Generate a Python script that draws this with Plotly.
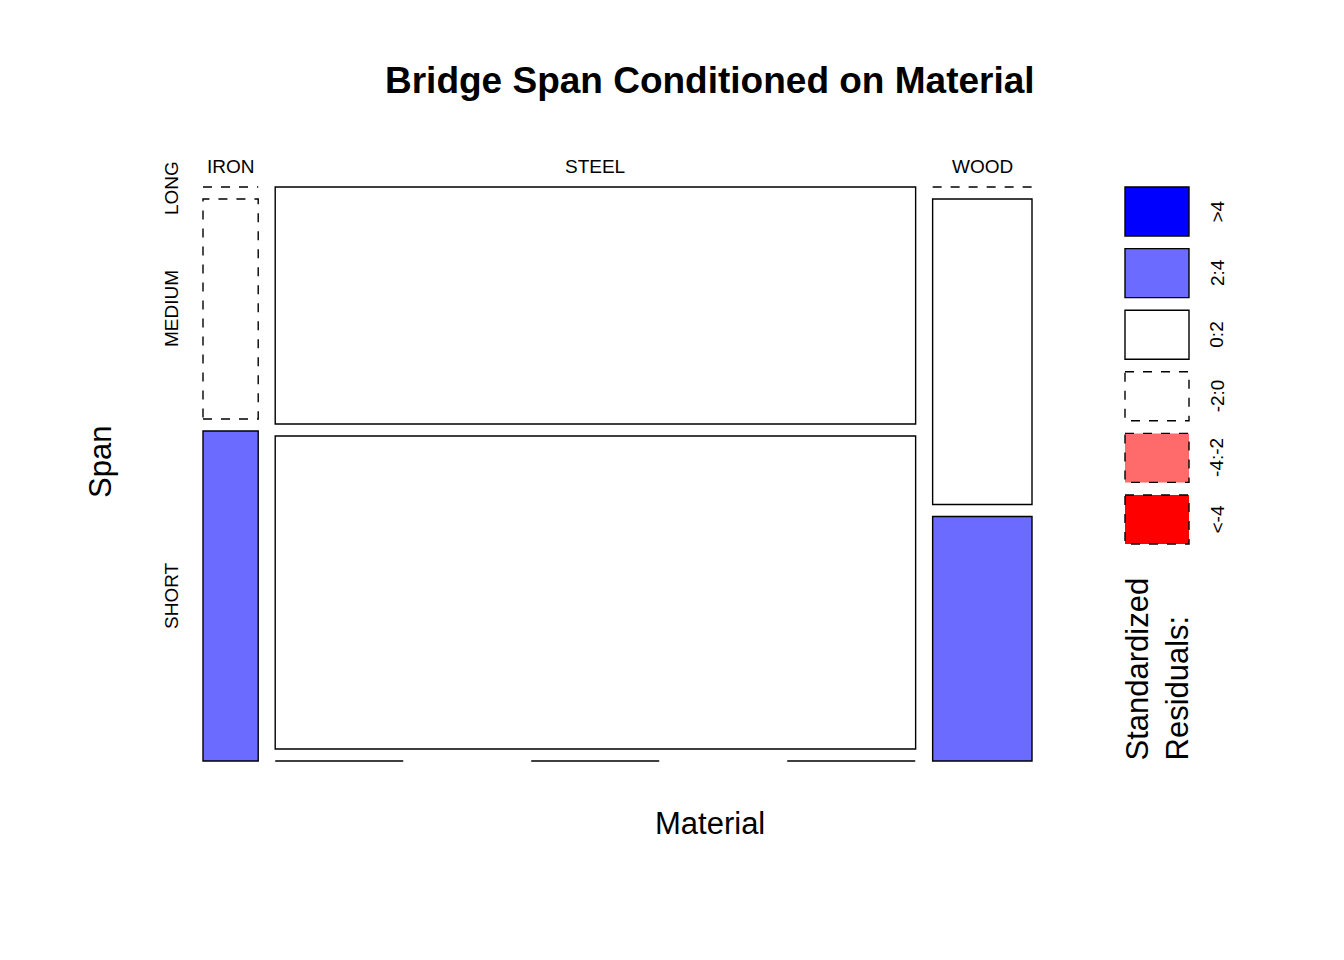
import plotly.graph_objects as go
import math

materials = ["IRON", "STEEL", "WOOD"]
spans = ["SHORT", "MEDIUM", "LONG"]
# counts[material] = [SHORT, MEDIUM, LONG]
iron_counts = [3, 2, 0]
steel_counts = [0, 33, 25]
wood_counts = [4, 5, 0]
counts = [iron_counts, steel_counts, wood_counts]
legend_labels = [">4", "2:4", "0:2", "-2:0", "-4:-2", "<-4"]
legend_fills = ["#0000FF", "#6B6BFF", "#FFFFFF", "#FFFFFF", "#FF6B6B", "#FF0000"]
legend_dash = ["solid", "solid", "solid", "dash", "dash", "dash"]

N = sum(sum(c) for c in counts)
col_tot = [sum(c) for c in counts]
row_tot = [sum(c[j] for c in counts) for j in range(3)]

def shade(r):
    if r > 4: return 0
    if r > 2: return 1
    if r >= 0: return 2
    if r > -2: return 3
    if r > -4: return 4
    return 5

fig = go.Figure()
shapes, ann = [], []
X0, W, GX = 203, 795, 17
YB, H, GY = 761, 550, 12
x = X0
for i, m in enumerate(materials):
    w = col_tot[i] / N * W
    y = YB
    for j, s in enumerate(spans):
        n = counts[i][j]
        e = col_tot[i] * row_tot[j] / N
        k = shade((n - e) / math.sqrt(e))
        if n == 0:
            dash = "128px,128px" if m == "STEEL" else "dash"
            shapes.append(dict(type="line", x0=x, x1=x + w, y0=y, y1=y,
                               line=dict(color="black", width=1.4, dash=dash)))
            y -= GY
        else:
            h = n / col_tot[i] * H
            shapes.append(dict(type="rect", x0=x, x1=x + w, y0=y, y1=y - h,
                               fillcolor=legend_fills[k],
                               line=dict(color="black", width=1.4, dash=legend_dash[k])))
            y -= h + GY
    ann.append(dict(x=x + w / 2, y=166, text=m, showarrow=False, font=dict(size=19)))
    x += w + GX

y = YB
for j, s in enumerate(spans):
    h = iron_counts[j] / col_tot[0] * H
    ann.append(dict(x=171, y=y - h / 2, text=s, textangle=-90,
                    showarrow=False, font=dict(size=19)))
    y -= h + GY
ann[-1]["y"] = 188

for k, lab in enumerate(legend_labels):
    y0 = 187 + k * 61.6
    shapes.append(dict(type="rect", x0=1125, x1=1189, y0=y0, y1=y0 + 49,
                       fillcolor=legend_fills[k],
                       line=dict(color="black", width=1.4, dash=legend_dash[k])))
    ann.append(dict(x=1217, y=y0 + 24.5, text=lab, textangle=-90, showarrow=False,
                    font=dict(size=19)))
ann.append(dict(x=1157, y=763, text="Standardized<br>Residuals:", textangle=-90,
                showarrow=False, yanchor="bottom", align="left", font=dict(size=31)))
ann.append(dict(x=710, y=80, text="<b>Bridge Span Conditioned on Material</b>",
                showarrow=False, font=dict(size=37)))
ann.append(dict(x=710, y=823, text="Material", showarrow=False, font=dict(size=31)))
ann.append(dict(x=100, y=462, text="Span", textangle=-90, showarrow=False, font=dict(size=31)))

fig.add_trace(go.Scatter(x=[0], y=[0], mode="markers", marker=dict(opacity=0), hoverinfo="skip"))
fig.update_layout(width=1344, height=960, margin=dict(l=0, r=0, t=0, b=0),
                  paper_bgcolor="white", plot_bgcolor="white", showlegend=False,
                  font=dict(family="Liberation Sans, Arial", color="black"),
                  xaxis=dict(range=[8, 1352], visible=False),
                  yaxis=dict(range=[968, 8], visible=False),
                  shapes=shapes, annotations=ann)
fig.write_html("out.html")
